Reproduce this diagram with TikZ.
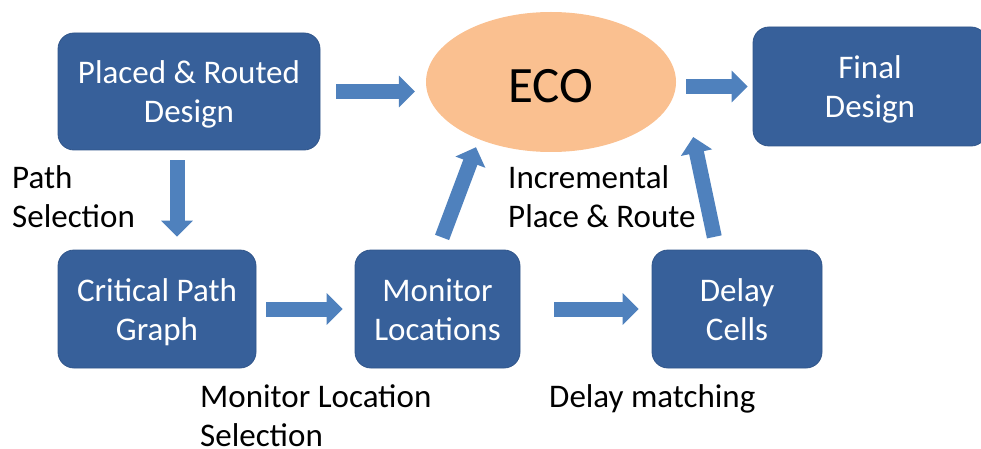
\documentclass[tikz,border=0pt]{standalone}
\usepackage{fontspec}
\setmainfont{Carlito}
\usetikzlibrary{arrows.meta,shapes.geometric}

\definecolor{boxblue}{HTML}{37609A}
\definecolor{arrowblue}{HTML}{4F81BD}
\definecolor{ecoorange}{HTML}{FAC090}

\begin{document}
\begin{tikzpicture}[x=1pt,y=-1pt]
\tikzset{
  StepBox/.style = {rectangle, rounded corners=16pt, fill=boxblue, draw=boxblue!90!black,
    line width=0.8pt, text=white, align=center, inner sep=0pt,
    text height=62pt, text depth=0pt,
    font=\fontsize{33}{39}\selectfont},
  BlockArrow/.style = {draw=arrowblue, line width=15pt, -{Triangle[length=16pt,width=31pt]}},
  NoteText/.style = {anchor=north west, align=left, inner sep=0pt,
    font=\fontsize{33}{39}\selectfont}
}
\useasboundingbox (0,0) rectangle (981,449);
\clip (0,0) rectangle (981,449);

% flow boxes
\node[StepBox, minimum width=262pt, minimum height=117pt] (pr) at (189,91.5) {Placed \& Routed\\Design};
\node[StepBox, minimum width=234pt, minimum height=119pt] (fin) at (870,86.5) {Final\\Design};
\node[StepBox, minimum width=198pt, minimum height=118pt] (cp) at (157,309) {Critical Path\\Graph};
\node[StepBox, minimum width=165pt, minimum height=118pt] (mon) at (437.5,309) {Monitor\\Locations};
\node[StepBox, minimum width=170pt, minimum height=118pt] (dc) at (737,309) {Delay\\Cells};
\node[ellipse, fill=ecoorange, minimum width=250pt, minimum height=140pt, inner sep=0pt,
  text height=42pt, text depth=0pt, font=\fontsize{51}{60}\selectfont] (eco) at (551,82) {ECO};

% arrow ends on the ECO bubble
\coordinate (ecoL) at ([shift={(-75,-5)}]eco.south);
\coordinate (ecoR) at ([shift={(17,55)}]eco.east);

\draw[BlockArrow, shorten <=16pt, shorten >=11pt] (pr.east) -- (pr.east -| eco.west);
\draw[BlockArrow, shorten <=10pt, shorten >=5pt] (eco.east |- fin.west) -- (fin.west);
\draw[BlockArrow, shorten <=10pt, shorten >=13pt] ([xshift=-12pt]pr.south) -- ([xshift=-12pt]pr.south |- cp.north);
\draw[BlockArrow, shorten <=10pt, shorten >=12pt] (cp.east) -- (mon.west);
\draw[BlockArrow, shorten <=34pt, shorten >=13pt] (mon.east) -- (dc.west);
\draw[BlockArrow, shorten <=13pt] (mon.north) -- (ecoL);
\draw[BlockArrow, shorten <=13pt] ([xshift=-20pt]dc.north) -- (ecoR);

% step labels
\node[NoteText] (psel) at (12,165) {Path\\Selection};
\node[NoteText] (ipr) at (508,165) {Incremental\\Place \& Route};
\node[NoteText] (mls) at (200,384) {Monitor Location\\Selection};
\node[NoteText] (dm) at (549,384) {Delay matching};
\end{tikzpicture}
\end{document}
